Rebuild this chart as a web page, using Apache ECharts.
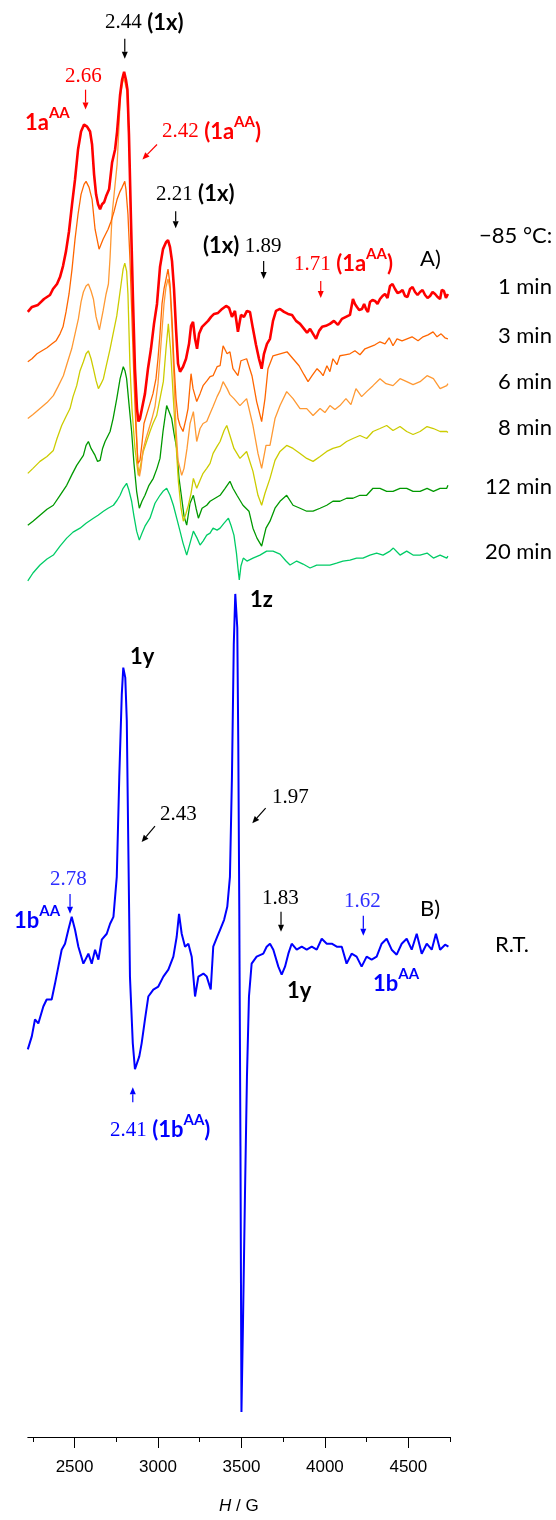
<!DOCTYPE html>
<html><head><meta charset="utf-8">
<script src="https://cdn.jsdelivr.net/npm/echarts@6/dist/echarts.min.js"></script>
<style>html,body{margin:0;padding:0;background:#fff}#c{width:556px;height:1520px}</style>
</head><body><div id="c"></div>
<script>
// ---------- axis ----------
const fieldMin = 2220, fieldMax = 4750;
const majorTicks = [2500, 3000, 3500, 4000, 4500];
const minorTicks = [2250, 2750, 3250, 3750, 4250, 4750];

// ---------- spectra: [field (G), signal (a.u., relative to left baseline)] ----------
const spec1min = [[2220,0],[2245,5],[2281,7],[2317,13],[2353,17],[2371,23],[2395,28],[2413,35],[2431,46],[2449,61],[2467,81],[2485,108],[2503,133],[2521,163],[2539,181],[2557,188],[2575,186],[2593,181],[2605,168],[2617,138],[2629,118],[2641,108],[2653,103],[2665,108],[2677,110],[2689,116],[2707,123],[2725,150],[2743,163],[2755,181],[2773,218],[2785,233],[2797,241],[2808,233],[2817,223],[2826,178],[2838,93],[2850,13],[2862,-57],[2874,-97],[2883,-110],[2892,-107],[2904,-97],[2922,-82],[2940,-57],[2958,-37],[2976,-12],[2994,8],[3012,45],[3030,63],[3048,70],[3060,72],[3072,65],[3084,51],[3096,23],[3108,-17],[3120,-52],[3132,-60],[3150,-55],[3168,-47],[3186,-32],[3198,-14],[3210,-10],[3222,-27],[3234,-37],[3246,-22],[3264,-15],[3282,-12],[3300,-9],[3318,-5],[3336,-2],[3360,-1],[3384,3],[3408,6],[3426,4],[3443,-5],[3461,1],[3479,-20],[3497,-3],[3515,-5],[3533,1],[3551,0],[3569,-17],[3587,-33],[3605,-47],[3621,-57],[3635,-42],[3653,-32],[3671,-27],[3689,-9],[3707,1],[3731,3],[3755,0],[3779,-2],[3803,-3],[3827,-9],[3851,-12],[3875,-17],[3893,-21],[3911,-17],[3929,-22],[3947,-27],[3965,-19],[3983,-15],[4006,-14],[4030,-12],[4054,-9],[4078,-13],[4102,-7],[4126,-5],[4150,-3],[4168,13],[4180,8],[4192,5],[4205,2],[4222,3],[4235,8],[4246,3],[4258,0],[4270,10],[4285,12],[4300,11],[4315,8],[4330,13],[4345,16],[4360,18],[4375,14],[4390,26],[4405,28],[4420,23],[4435,19],[4450,20],[4465,22],[4480,16],[4495,15],[4510,23],[4525,25],[4540,20],[4555,17],[4570,20],[4585,22],[4600,17],[4615,14],[4630,16],[4645,20],[4660,18],[4675,15],[4690,13],[4700,22],[4713,21],[4725,14],[4737,18]];

const spec3min = [[2220,0],[2245,3],[2275,8],[2305,11],[2335,14],[2365,18],[2389,21],[2413,28],[2431,35],[2449,50],[2467,68],[2485,93],[2503,123],[2521,148],[2539,168],[2557,178],[2569,181],[2587,175],[2605,163],[2623,133],[2635,123],[2647,113],[2659,118],[2671,123],[2683,127],[2701,133],[2719,141],[2737,151],[2755,163],[2773,171],[2785,175],[2801,181],[2808,173],[2820,148],[2832,103],[2844,43],[2856,-17],[2868,-67],[2880,-102],[2892,-99],[2904,-82],[2916,-62],[2934,-52],[2952,-42],[2970,-32],[2988,-17],[3000,3],[3012,28],[3024,58],[3036,73],[3048,83],[3060,93],[3072,78],[3084,43],[3096,-2],[3108,-37],[3120,-57],[3132,-64],[3150,-70],[3168,-57],[3180,-47],[3198,-12],[3210,-27],[3232,-40],[3252,-32],[3270,-24],[3294,-19],[3312,-15],[3330,-14],[3354,-5],[3372,-4],[3390,16],[3414,8],[3431,10],[3449,-7],[3479,-14],[3497,1],[3531,3],[3563,-14],[3591,-40],[3621,-60],[3641,-37],[3659,-7],[3689,6],[3731,8],[3773,10],[3809,3],[3845,-4],[3875,-13],[3899,-20],[3923,-14],[3953,-7],[3971,-10],[3989,-14],[4012,-4],[4030,-10],[4048,3],[4072,-3],[4090,6],[4120,7],[4150,8],[4180,11],[4210,7],[4240,13],[4270,15],[4300,17],[4330,20],[4360,18],[4385,24],[4408,16],[4432,23],[4462,21],[4492,23],[4522,25],[4558,21],[4588,25],[4618,27],[4648,30],[4672,25],[4696,28],[4719,24],[4737,23]];

const spec6min = [[2220,0],[2251,4],[2293,10],[2335,16],[2373,23],[2401,32],[2433,43],[2455,55],[2483,70],[2503,85],[2523,100],[2539,117],[2553,127],[2569,133],[2583,135],[2599,128],[2613,120],[2629,102],[2649,89],[2671,108],[2689,125],[2703,135],[2713,162],[2725,205],[2740,230],[2755,255],[2767,295],[2774,322],[2785,335],[2795,342],[2805,335],[2814,328],[2826,280],[2834,222],[2844,150],[2856,70],[2868,0],[2880,-48],[2889,-58],[2898,-50],[2910,-32],[2928,-20],[2946,-10],[2964,0],[2982,12],[3000,35],[3018,75],[3036,115],[3048,132],[3060,140],[3072,130],[3084,90],[3096,40],[3108,-10],[3120,-42],[3142,-57],[3156,-50],[3174,-30],[3192,-5],[3212,7],[3232,-23],[3252,-10],[3270,-5],[3292,-3],[3312,5],[3330,12],[3354,22],[3372,28],[3390,37],[3414,30],[3431,24],[3455,20],[3491,13],[3531,20],[3569,-7],[3599,-35],[3621,-50],[3647,-27],[3671,-27],[3701,0],[3731,13],[3771,27],[3809,20],[3851,10],[3891,10],[3929,3],[3971,10],[4000,6],[4030,13],[4060,9],[4090,13],[4126,20],[4156,14],[4186,30],[4220,22],[4250,27],[4288,33],[4330,40],[4366,35],[4408,33],[4450,40],[4490,37],[4528,34],[4570,37],[4612,43],[4650,40],[4690,30],[4730,33],[4737,35]];

const spec8min = [[2220,0],[2251,5],[2293,12],[2335,17],[2373,23],[2395,35],[2423,48],[2449,57],[2473,65],[2491,77],[2513,88],[2533,103],[2553,112],[2569,120],[2583,123],[2599,115],[2613,105],[2629,93],[2643,85],[2659,90],[2673,95],[2689,107],[2713,125],[2731,140],[2753,158],[2767,175],[2779,190],[2791,205],[2801,211],[2812,203],[2820,180],[2832,108],[2844,65],[2862,25],[2882,-2],[2892,5],[2912,22],[2934,33],[2952,42],[2970,50],[2992,58],[3012,75],[3032,92],[3048,125],[3062,150],[3075,125],[3092,75],[3108,30],[3122,-8],[3138,-35],[3152,-48],[3168,-40],[3182,-32],[3198,-20],[3212,-5],[3232,-15],[3252,-7],[3270,0],[3292,5],[3312,10],[3330,20],[3354,27],[3372,32],[3396,43],[3412,48],[3431,38],[3455,25],[3491,15],[3531,22],[3569,2],[3599,-22],[3621,-32],[3641,-20],[3671,-5],[3701,13],[3731,22],[3771,28],[3809,25],[3851,20],[3891,15],[3929,12],[3971,17],[4011,22],[4048,25],[4090,27],[4130,32],[4168,35],[4210,38],[4250,35],[4288,42],[4330,45],[4370,48],[4408,43],[4450,47],[4490,42],[4528,39],[4570,42],[4612,47],[4650,45],[4690,42],[4730,42],[4737,41]];

const spec12min = [[2220,0],[2251,4],[2293,10],[2335,16],[2373,20],[2413,30],[2453,40],[2485,51],[2513,60],[2533,65],[2553,70],[2569,80],[2583,84],[2599,77],[2623,70],[2638,64],[2653,65],[2668,77],[2683,84],[2713,94],[2731,107],[2753,127],[2773,147],[2792,159],[2802,155],[2812,147],[2826,122],[2842,94],[2856,62],[2872,34],[2888,17],[2904,24],[2922,30],[2946,40],[2972,47],[2994,57],[3012,67],[3030,94],[3052,120],[3066,114],[3082,107],[3096,92],[3112,77],[3126,47],[3142,27],[3156,9],[3172,0],[3192,22],[3212,30],[3228,17],[3242,7],[3264,17],[3292,20],[3312,24],[3342,27],[3372,30],[3402,37],[3431,44],[3449,37],[3473,30],[3509,20],[3545,14],[3569,-3],[3593,-13],[3621,-21],[3647,-3],[3671,4],[3701,17],[3731,24],[3771,30],[3809,20],[3851,17],[3891,14],[3929,14],[3971,17],[4011,20],[4048,24],[4090,24],[4130,27],[4168,27],[4210,30],[4250,30],[4288,37],[4330,37],[4370,34],[4408,34],[4450,37],[4490,37],[4528,34],[4570,34],[4612,37],[4650,34],[4690,37],[4730,37],[4737,40]];

const spec20min = [[2220,0],[2251,8],[2293,16],[2335,22],[2373,26],[2413,35],[2453,43],[2491,49],[2533,53],[2569,58],[2613,63],[2641,66],[2673,70],[2701,73],[2733,76],[2755,81],[2773,86],[2791,93],[2812,98],[2826,91],[2842,80],[2856,65],[2872,50],[2888,41],[2904,48],[2922,55],[2952,63],[2982,78],[3012,86],[3030,90],[3052,93],[3072,86],[3092,76],[3112,63],[3132,50],[3150,38],[3172,26],[3192,38],[3212,50],[3234,43],[3252,36],[3270,40],[3292,46],[3312,48],[3330,53],[3354,51],[3372,53],[3396,58],[3422,63],[3437,56],[3455,46],[3470,28],[3479,13],[3487,1],[3497,15],[3511,23],[3533,20],[3569,23],[3611,26],[3651,30],[3689,30],[3731,27],[3767,20],[3791,16],[3831,20],[3869,17],[3911,13],[3951,16],[3989,16],[4030,16],[4070,18],[4108,20],[4150,21],[4190,23],[4228,23],[4270,26],[4310,28],[4348,26],[4390,30],[4410,33],[4450,26],[4490,30],[4528,26],[4570,26],[4612,28],[4650,23],[4690,26],[4730,23],[4737,25]];

const specRT = [[2220,0],[2244,13],[2263,30],[2283,26],[2313,43],[2333,50],[2363,50],[2383,66],[2403,83],[2423,100],[2443,106],[2463,120],[2483,133],[2503,120],[2523,103],[2553,86],[2583,96],[2603,86],[2623,100],[2643,90],[2663,110],[2693,116],[2713,126],[2733,133],[2753,173],[2768,273],[2783,356],[2792,383],[2804,373],[2813,330],[2822,206],[2832,73],[2849,6],[2862,-20],[2872,-22],[2888,-7],[2902,6],[2922,30],[2942,53],[2972,60],[3002,63],[3032,73],[3062,80],[3092,93],[3112,113],[3126,136],[3142,116],[3162,103],[3182,106],[3202,93],[3222,53],[3242,73],[3272,76],[3292,73],[3316,60],[3331,103],[3355,113],[3372,120],[3396,130],[3415,143],[3431,173],[3443,273],[3454,406],[3463,457],[3475,423],[3481,306],[3487,140],[3494,-97],[3500,-364],[3509,-277],[3521,-147],[3533,-27],[3545,53],[3561,86],[3591,93],[3631,96],[3651,103],[3671,106],[3691,100],[3721,83],[3741,75],[3761,83],[3781,96],[3801,106],[3831,100],[3861,103],[3891,100],[3921,103],[3951,100],[3981,111],[4011,106],[4041,106],[4071,103],[4101,103],[4130,86],[4160,96],[4190,93],[4220,83],[4250,93],[4280,90],[4310,93],[4340,106],[4370,111],[4400,100],[4430,95],[4460,106],[4490,111],[4520,100],[4550,116],[4580,96],[4610,106],[4640,100],[4665,116],[4690,100],[4720,105],[4740,103]];

// stacking offsets of each spectrum's baseline (a.u.)
const spectrumNames = ['20 min','12 min','8 min','6 min','3 min','1 min','R.T.'];
const spectrumData = [spec20min, spec12min, spec8min, spec6min, spec3min, spec1min, specRT];
const spectrumOffsets = [859, 915, 967, 1022, 1079, 1129, 389];
const spectrumColors = ['#00CC66', '#009900', '#CCCC00', '#FF9933', '#FF6600', '#FF0000', '#0000FF'];
const spectrumWidths = [1.3, 1.3, 1.3, 1.3, 1.3, 2.6, 2.0];

// ---------- annotations: [rich text, field, value, align, colour] ----------
const annotations = [
  ['{s|2.44} {b|(1x)}', 2683, 1419, 'left', '#000'],
  ['{s|2.66}', 2443, 1365, 'left', '#FF0000'],
  ['{b|1a}{p|AA}', 2203, 1319, 'left', '#FF0000'],
  ['{s|2.42} {b|(1a}{p|AA}{b|)}', 3024, 1310, 'left', '#FF0000'],
  ['{s|2.21} {b|(1x)}', 2988, 1247, 'left', '#000'],
  ['{b|(1x)} {s|1.89}', 3270, 1195, 'left', '#000'],
  ['{s|1.71} {b|(1a}{p|AA}{b|)}', 3815, 1177, 'left', '#FF0000'],
  ['{n|A)}', 4570, 1182, 'left', '#000'],
  ['{n|\u221285 \u00B0C:}', 4923, 1205, 'left', '#000'],
  ['{n|1 min}', 5360, 1154, 'right', '#000'],
  ['{n|3 min}', 5360, 1105, 'right', '#000'],
  ['{n|6 min}', 5360, 1059, 'right', '#000'],
  ['{n|8 min}', 5360, 1013, 'right', '#000'],
  ['{n|12 min}', 5360, 953, 'right', '#000'],
  ['{n|20 min}', 5360, 888, 'right', '#000'],
  ['{b|1y}', 2832, 783, 'left', '#000'],
  ['{b|1z}', 3551, 840, 'left', '#000'],
  ['{s|2.43}', 3012, 625, 'left', '#000'],
  ['{s|1.97}', 3683, 642, 'left', '#000'],
  ['{s|2.78}', 2353, 559, 'left', '#2E2EFF'],
  ['{b|1b}{p|AA}', 2138, 518, 'left', '#0000FF'],
  ['{s|2.41} {b|(1b}{p|AA}{b|)}', 2713, 308, 'left', '#0000FF'],
  ['{s|1.83}', 3623, 540, 'left', '#000'],
  ['{s|1.62}', 4114, 537, 'left', '#2E2EFF'],
  ['{n|B)}', 4570, 530, 'left', '#000'],
  ['{n|R.T.}', 5019, 494, 'left', '#000'],
  ['{b|1y}', 3773, 448, 'left', '#000'],
  ['{b|1b}{p|AA}', 4288, 455, 'left', '#0000FF']
];
// arrows: [fromField, fromValue, toField, toValue, colour]
const arrows = [
  [2801, 1403, 2801, 1383, '#000'],
  [2566, 1352, 2566, 1332, '#FF0000'],
  [2994, 1297, 2907, 1282, '#FF0000'],
  [3106, 1230, 3106, 1213, '#000'],
  [3633, 1180, 3633, 1162, '#000'],
  [3975, 1160, 3975, 1143, '#FF0000'],
  [2982, 613, 2902, 597, '#000'],
  [3645, 631, 3565, 616, '#000'],
  [2473, 545, 2473, 525, '#0000FF'],
  [2849, 336, 2849, 351, '#0000FF'],
  [3737, 527, 3737, 507, '#000'],
  [4230, 523, 4230, 503, '#0000FF']
];

const chart = echarts.init(document.getElementById('c'), null, {renderer: 'canvas', width: 556, height: 1520});

const series = spectrumData.map((pts, i) => ({
  name: spectrumNames[i],
  type: 'line',
  showSymbol: false,
  symbol: 'none',
  data: pts.map(p => [p[0], p[1] + spectrumOffsets[i]]),
  lineStyle: {color: spectrumColors[i], width: spectrumWidths[i]},
  itemStyle: {color: spectrumColors[i]},
  z: 2 + i,
  animation: false,
  silent: true
}));

chart.setOption({
  animation: false,
  backgroundColor: '#fff',
  grid: {left: 27.8, right: 105.9, top: 0, bottom: 78, containLabel: false},
  xAxis: [{
    type: 'value', min: fieldMin, max: fieldMax, position: 'bottom',
    axisLine: {show: true, onZero: false, lineStyle: {color: '#000', width: 1}},
    axisTick: {show: true, customValues: majorTicks, length: 11, lineStyle: {color: '#000', width: 1}},
    axisLabel: {show: true, customValues: majorTicks, margin: 22, color: '#000', fontFamily: 'Liberation Sans', fontSize: 17,
      formatter: v => String(v)},
    splitLine: {show: false},
    name: '{i|H} / G', nameLocation: 'middle', nameGap: 61,
    nameTextStyle: {fontFamily: 'Liberation Sans', fontSize: 17, color: '#000',
      rich: {i: {fontFamily: 'Liberation Sans', fontSize: 17, fontStyle: 'italic', color: '#000'}}}
  }, {
    type: 'value', min: fieldMin, max: fieldMax, position: 'bottom', gridIndex: 0,
    axisLine: {show: false, onZero: false},
    axisTick: {show: true, customValues: minorTicks, length: 5, lineStyle: {color: '#000', width: 1}},
    axisLabel: {show: false},
    splitLine: {show: false}
  }],
  yAxis: {type: 'value', min: 0, max: 1442, show: false, splitLine: {show: false}},
  series: series
});

const toPx = (g, v) => chart.convertToPixel({xAxisIndex: 0, yAxisIndex: 0}, [g, v]);
const rich = {
  s: {fontFamily: 'Liberation Serif', fontSize: 21, lineHeight: 34},
  b: {fontFamily: 'Lato', fontWeight: 'bold', fontSize: 22, lineHeight: 34},
  p: {fontFamily: 'Lato', fontWeight: 'bold', fontSize: 15, lineHeight: 16, verticalAlign: 'top'},
  n: {fontFamily: 'Lato', fontSize: 22, lineHeight: 34}
};
const els = [];
annotations.forEach(a => {
  const p = toPx(a[1], a[2]);
  els.push({
    type: 'text', x: p[0], y: p[1], z: 50, silent: true,
    style: {text: a[0], fill: a[4], rich: rich, font: '21px Lato',
      align: a[3], verticalAlign: 'middle', textAlign: a[3], textVerticalAlign: 'middle'}
  });
});
arrows.forEach(a => {
  const p1 = toPx(a[0], a[1]);
  const p2 = toPx(a[2], a[3]);
  const dx = p2[0] - p1[0], dy = p2[1] - p1[1];
  const len = Math.sqrt(dx * dx + dy * dy);
  const ux = dx / len, uy = dy / len;
  const hl = 7, hw = 3;
  const bx = p2[0] - ux * hl, by = p2[1] - uy * hl;
  els.push({type: 'line', z: 50, silent: true,
    shape: {x1: p1[0], y1: p1[1], x2: bx, y2: by},
    style: {stroke: a[4], lineWidth: 1.2}});
  els.push({type: 'polygon', z: 50, silent: true,
    shape: {points: [[p2[0], p2[1]], [bx - uy * hw, by + ux * hw], [bx + uy * hw, by - ux * hw]]},
    style: {fill: a[4]}});
});
chart.setOption({graphic: {elements: els}});
</script>
</body></html>
